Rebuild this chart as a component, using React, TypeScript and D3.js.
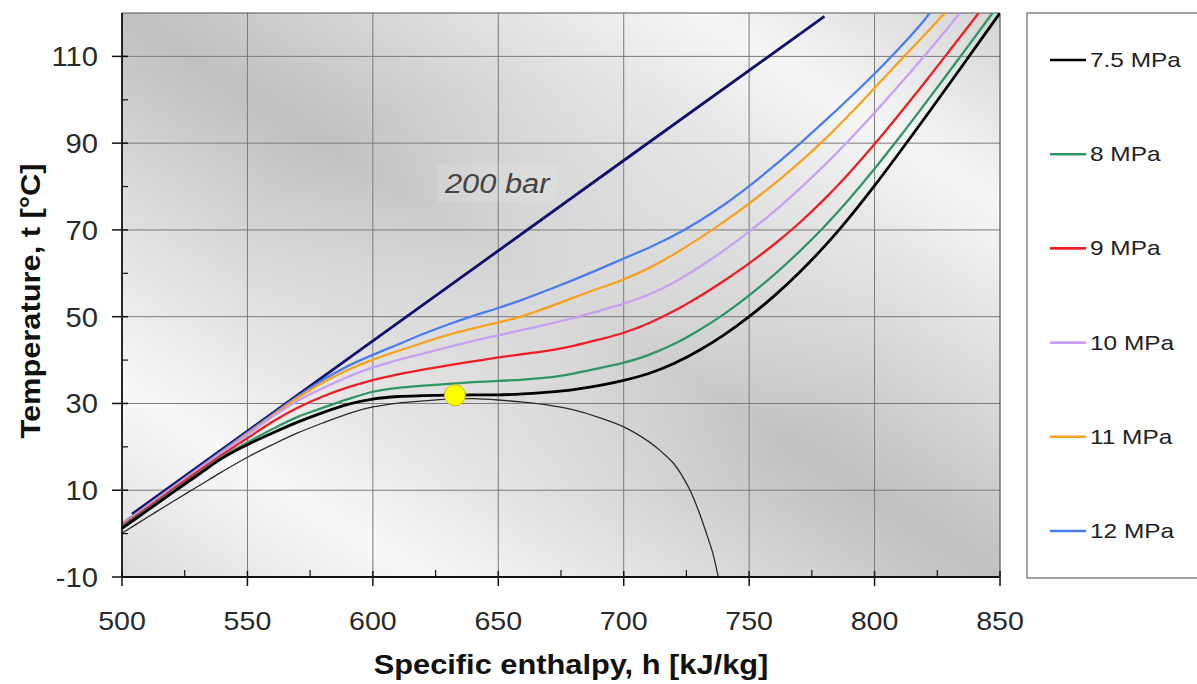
import React from 'react';
import * as d3 from 'd3';

// axis ticks
const xTicks = [500, 550, 600, 650, 700, 750, 800, 850];
const xMinor = [525, 575, 625, 675, 725, 775, 825];
const yTicks = [-10, 10, 30, 50, 70, 90, 110];
const yMinor = [0, 20, 40, 60, 80, 100];

// isobars: specific enthalpy h [kJ/kg] and temperature t [°C]
const h75 = [500, 510, 520, 530, 540, 550, 560, 570, 580, 590, 600, 610, 620, 630, 640, 650, 660, 670, 680, 690, 700, 710, 720, 730, 740, 750, 760, 770, 780, 790, 800, 810, 820, 830, 840, 850];
const t75 = [1.2, 5.3, 9.4, 13.4, 17.4, 20.5, 23.2, 25.7, 27.9, 29.8, 31.0, 31.6, 31.8, 31.9, 32.0, 32.0, 32.2, 32.6, 33.2, 34.1, 35.3, 36.9, 39.2, 42.2, 45.8, 50.0, 54.8, 60.2, 66.2, 72.9, 80.2, 87.9, 95.8, 103.8, 111.9, 120.0];

const h8 = [500, 510, 520, 530, 540, 550, 560, 570, 580, 590, 600, 610, 620, 630, 640, 650, 660, 670, 680, 690, 700, 710, 720, 730, 740, 750, 760, 770, 780, 790, 800, 810, 820, 830, 840, 847];
const t8 = [1.5, 5.6, 9.7, 13.7, 17.7, 21.0, 24.1, 26.9, 29.0, 31.0, 32.7, 33.6, 34.1, 34.5, 34.9, 35.2, 35.5, 36.0, 36.9, 38.1, 39.4, 41.2, 43.7, 46.9, 50.6, 54.9, 59.7, 65.0, 70.8, 77.2, 84.1, 91.4, 99.0, 106.7, 114.5, 120.0];

const h9 = [500, 510, 520, 530, 540, 550, 560, 570, 580, 590, 600, 610, 620, 630, 640, 650, 660, 670, 680, 690, 700, 710, 720, 730, 740, 750, 760, 770, 780, 790, 800, 810, 820, 830, 841.5];
const t9 = [1.8, 5.9, 10.1, 14.2, 18.2, 22.0, 25.8, 29.0, 31.6, 33.7, 35.4, 36.7, 37.8, 38.8, 39.7, 40.6, 41.4, 42.2, 43.3, 44.7, 46.3, 48.5, 51.3, 54.6, 58.3, 62.3, 66.7, 71.6, 77.1, 83.2, 89.8, 96.8, 104.0, 111.4, 120.0];

const h10 = [500, 510, 520, 530, 540, 550, 560, 570, 580, 590, 600, 610, 620, 630, 640, 650, 660, 670, 680, 690, 700, 710, 720, 730, 740, 750, 760, 770, 780, 790, 800, 810, 820, 830, 834];
const t10 = [2.0, 6.2, 10.4, 14.6, 18.7, 22.7, 26.9, 30.6, 33.5, 36.1, 38.3, 40.0, 41.5, 43.0, 44.4, 45.7, 47.0, 48.3, 49.7, 51.3, 53.0, 55.1, 57.9, 61.4, 65.3, 69.6, 74.3, 79.4, 84.9, 90.8, 97.0, 103.5, 110.2, 117.1, 120.0];

const h11 = [500, 510, 520, 530, 540, 550, 560, 570, 580, 590, 600, 610, 620, 630, 640, 650, 660, 670, 680, 690, 700, 710, 720, 730, 740, 750, 760, 770, 780, 790, 800, 810, 820, 828];
const t11 = [2.1, 6.3, 10.5, 14.7, 18.8, 23.0, 27.2, 31.3, 34.8, 37.7, 40.1, 42.1, 44.0, 45.8, 47.3, 48.7, 50.2, 52.2, 54.4, 56.5, 58.6, 61.2, 64.4, 68.0, 71.9, 76.1, 80.6, 85.5, 90.8, 96.6, 102.7, 108.9, 115.0, 120.0];

const h12 = [500, 510, 520, 530, 540, 550, 560, 570, 580, 590, 600, 610, 620, 630, 640, 650, 660, 670, 680, 690, 700, 710, 720, 730, 740, 750, 760, 770, 780, 790, 800, 810, 820, 822];
const t12 = [2.3, 6.5, 10.7, 14.9, 19.1, 23.3, 27.5, 31.6, 35.4, 38.6, 41.2, 43.6, 46.0, 48.2, 50.2, 52.0, 54.0, 56.2, 58.5, 60.9, 63.4, 65.9, 68.7, 72.0, 75.8, 80.1, 84.8, 89.8, 95.0, 100.4, 106.0, 112.0, 118.5, 120.0];

// 200 bar isobar
const h200 = [504, 600, 700, 780];
const t200 = [4.5, 44.4, 86.0, 119.2];

// saturation dome
const hSat = [500, 510, 520, 530, 540, 550, 560, 570, 580, 590, 600, 610, 620, 630, 640, 650, 660, 670, 680, 690, 700, 710, 715, 720, 726, 730, 733, 735.5, 737.7];
const tSat = [0.1, 3.7, 7.3, 10.8, 14.3, 17.6, 20.5, 23.2, 25.5, 27.6, 29.2, 30.1, 30.6, 31.0, 31.1, 30.8, 30.3, 29.6, 28.5, 26.8, 24.6, 21.2, 18.9, 16.1, 10.5, 5.0, 0.0, -4.5, -10.0];

// critical point
const hCrit = 632.7;
const tCrit = 31.9;

const labels = ['7.5 MPa', '8 MPa', '9 MPa', '10 MPa', '11 MPa', '12 MPa'];
const colors = ['#000000', '#2f9565', '#ee1d23', '#c7a0f4', '#f6a21e', '#4a7cf0'];
const hs = [h75, h8, h9, h10, h11, h12];
const ts = [t75, t8, t9, t10, t11, t12];

const FONT = '"Liberation Sans", Arial, Helvetica, sans-serif';

export default function App() {
  const left = 122, right = 1000, top = 13, bottom = 577;
  const x = d3.scaleLinear().domain([500, 850]).range([left, right]);
  const y = d3.scaleLinear().domain([-10, 120]).range([bottom, top]);

  const mk = (hh: number[], tt: number[], curve: any) =>
    d3.line<number>()
      .x((_, i) => x(hh[i]))
      .y((d) => y(d))
      .curve(curve)(tt) || '';

  const legendY = d3.scalePoint<string>().domain(labels).range([60, 531]);

  return (
    <svg width={1197} height={684} style={{ position: 'absolute', left: 0, top: 0, background: '#fff' }}>
      <defs>
        <linearGradient id="bg" x1="0" y1="1" x2="1" y2="0">
          <stop offset="0" stopColor="#dcdcdc" />
          <stop offset="0.17" stopColor="#f8f8f8" />
          <stop offset="0.5" stopColor="#c0c0c0" />
          <stop offset="0.83" stopColor="#f6f6f6" />
          <stop offset="1" stopColor="#d4d4d4" />
        </linearGradient>
        <radialGradient id="glow" cx="0.5" cy="0.5" r="0.38">
          <stop offset="0" stopColor="#ffffff" stopOpacity={0.4} />
          <stop offset="1" stopColor="#ffffff" stopOpacity={0} />
        </radialGradient>
        <clipPath id="plot">
          <rect x={left} y={top} width={right - left} height={bottom - top} />
        </clipPath>
      </defs>

      <rect x={left} y={top} width={right - left} height={bottom - top} fill="url(#bg)" />
      <rect x={left} y={top} width={right - left} height={bottom - top} fill="url(#glow)" />

      {/* grid */}
      {xTicks.slice(1, -1).map((v) => (
        <line key={'gx' + v} x1={x(v)} x2={x(v)} y1={top} y2={bottom} stroke="#7a7a7a" strokeWidth={1} />
      ))}
      {yTicks.slice(1).map((v) => (
        <line key={'gy' + v} x1={left} x2={right} y1={y(v)} y2={y(v)} stroke="#7a7a7a" strokeWidth={1} />
      ))}

      {/* frame */}
      <line x1={left} x2={right} y1={top} y2={top} stroke="#555" strokeWidth={1.2} />
      <line x1={right} x2={right} y1={top} y2={bottom} stroke="#555" strokeWidth={1.2} />

      <g clipPath="url(#plot)">
        <rect x={437} y={164} width={120} height={38} fill="#ffffff" opacity={0.12} />
        <path d={mk(hSat, tSat, d3.curveCatmullRom)} fill="none" stroke="#2a2a2a" strokeWidth={1.3} />
        <path d={mk(h200, t200, d3.curveLinear)} fill="none" stroke="#10106a" strokeWidth={2.8} />
        {hs.map((hh, i) => i).reverse().map((i) => (
          <path key={labels[i]} d={mk(hs[i], ts[i], d3.curveMonotoneX)} fill="none" stroke={colors[i]} strokeWidth={i === 0 ? 2.8 : 2.3} />
        ))}
        <circle cx={x(hCrit)} cy={y(tCrit)} r={10.5} fill="#ffff00" stroke="#c9b800" strokeWidth={1} />
      </g>

      <text transform={`translate(445,193) scale(1.1,1)`} fontFamily={FONT} fontSize={28} fontStyle="italic" fill="#444">200 bar</text>

      {/* axes */}
      <line x1={left} x2={left} y1={top} y2={bottom} stroke="#111" strokeWidth={1.8} />
      <line x1={left} x2={right} y1={bottom} y2={bottom} stroke="#111" strokeWidth={2} />
      {yTicks.map((v) => (
        <line key={'ty' + v} x1={left - 10} x2={left + 6} y1={y(v)} y2={y(v)} stroke="#111" strokeWidth={1.5} />
      ))}
      {yMinor.map((v) => (
        <line key={'my' + v} x1={left} x2={left + 6} y1={y(v)} y2={y(v)} stroke="#111" strokeWidth={1.2} />
      ))}
      {xTicks.map((v) => (
        <line key={'tx' + v} x1={x(v)} x2={x(v)} y1={bottom - 6} y2={bottom + 9} stroke="#111" strokeWidth={1.5} />
      ))}
      {xMinor.map((v) => (
        <line key={'mx' + v} x1={x(v)} x2={x(v)} y1={bottom - 7} y2={bottom} stroke="#111" strokeWidth={1.2} />
      ))}

      {xTicks.map((v) => (
        <text key={'lx' + v} transform={`translate(${x(v)},630) scale(1.1,1)`} textAnchor="middle" fontFamily={FONT} fontSize={26} fill="#2a2a2a">{v}</text>
      ))}
      {yTicks.map((v) => (
        <text key={'ly' + v} transform={`translate(98,${y(v) + 10}) scale(1.08,1)`} textAnchor="end" fontFamily={FONT} fontSize={27} fill="#2a2a2a">{v}</text>
      ))}

      <text transform="translate(571,674) scale(1.1,1)" textAnchor="middle" fontFamily={FONT} fontSize={28} fontWeight="bold" fill="#111">Specific enthalpy, h [kJ/kg]</text>
      <text transform="translate(40,301) rotate(-90) scale(1.1,1)" textAnchor="middle" fontFamily={FONT} fontSize={28} fontWeight="bold" fill="#111">Temperature, t [°C]</text>

      {/* legend */}
      <rect x={1027} y={13} width={180} height={565} fill="#fff" stroke="#666" strokeWidth={1.2} />
      {labels.map((lab, i) => (
        <g key={'lg' + lab}>
          <line x1={1050} x2={1086} y1={legendY(lab)} y2={legendY(lab)} stroke={colors[i]} strokeWidth={2.6} />
          <text transform={`translate(1090,${(legendY(lab) as number) + 7}) scale(1.22,1)`} fontFamily={FONT} fontSize={20} fill="#222">{lab}</text>
        </g>
      ))}
    </svg>
  );
}
